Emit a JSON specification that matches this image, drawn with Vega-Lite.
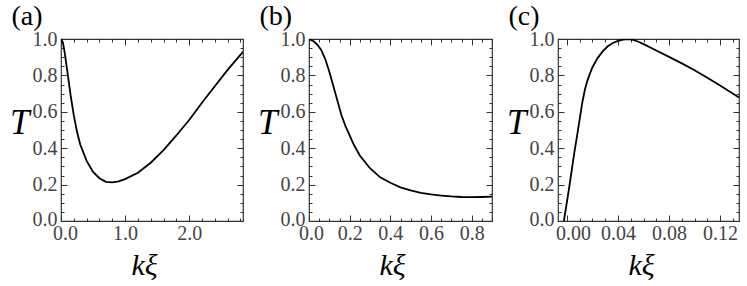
{
  "$schema": "https://vega.github.io/schema/vega-lite/v6.json",
  "padding": {"left": 8, "top": 2, "right": 0, "bottom": 0},
  "spacing": 11,
  "config": {
    "view": {"stroke": "#333", "strokeWidth": 1.2},
    "axis": {
      "grid": false,
      "domain": false,
      "labelFont": "Liberation Serif",
      "labelFontSize": 20,
      "labelColor": "#444",
      "tickColor": "#333",
      "tickWidth": 1,
      "titleFont": "Liberation Serif",
      "titleFontStyle": "italic",
      "titleFontWeight": "normal",
      "titleColor": "black",
      "labelOverlap": false,
      "labelFlush": false
    },
    "title": {"font": "Liberation Serif", "fontSize": 28, "fontWeight": "normal", "anchor": "start", "baseline": "bottom", "offset": -2, "dx": 2, "color": "black"}
  },
  "hconcat": [
    {
      "width": 182,
      "height": 182,
      "title": "(a)",
      "data": {"values": [
        {"k": 0, "T": 1.0}, {"k": 0.03, "T": 0.98}, {"k": 0.06, "T": 0.92}, {"k": 0.1, "T": 0.82},
        {"k": 0.15, "T": 0.69}, {"k": 0.2, "T": 0.58}, {"k": 0.25, "T": 0.49}, {"k": 0.3, "T": 0.42},
        {"k": 0.4, "T": 0.33}, {"k": 0.5, "T": 0.27}, {"k": 0.6, "T": 0.235}, {"k": 0.7, "T": 0.215},
        {"k": 0.8, "T": 0.212}, {"k": 0.9, "T": 0.218}, {"k": 1.0, "T": 0.23}, {"k": 1.2, "T": 0.265},
        {"k": 1.4, "T": 0.32}, {"k": 1.6, "T": 0.39}, {"k": 1.8, "T": 0.47}, {"k": 2.0, "T": 0.555},
        {"k": 2.2, "T": 0.65}, {"k": 2.4, "T": 0.74}, {"k": 2.6, "T": 0.83}, {"k": 2.84, "T": 0.93}
      ]},
      "layer": [
        {
          "mark": {"type": "line", "color": "black", "strokeWidth": 1.8, "clip": true},
          "encoding": {
            "x": {"field": "k", "type": "quantitative", "scale": {"domain": [0, 2.84], "nice": false, "zero": false},
              "axis": {"orient": "bottom", "values": [0, 0.2, 0.4, 0.6, 0.8, 1.0, 1.2, 1.4, 1.6, 1.8, 2.0, 2.2, 2.4, 2.6, 2.8],
                "tickSize": {"condition": {"test": "abs(datum.value - round(datum.value)) < 1e-6", "value": -6}, "value": -3},
                "labelExpr": "abs(datum.value - round(datum.value)) < 1e-6 ? format(datum.value, '.1f') : ''",
                "labelOffset": {"condition": {"test": "datum.value === 0", "value": 4}, "value": 0},
                "labelPadding": 8, "title": "kξ", "titleFontSize": 30, "titleX": 83, "titleY": 53, "titleBaseline": "alphabetic"}},
            "y": {"field": "T", "type": "quantitative", "scale": {"domain": [0, 1], "nice": false, "zero": false},
              "axis": {"orient": "left", "values": [0, 0.05, 0.1, 0.15, 0.2, 0.25, 0.3, 0.35, 0.4, 0.45, 0.5, 0.55, 0.6, 0.65, 0.7, 0.75, 0.8, 0.85, 0.9, 0.95, 1.0],
                "tickSize": {"condition": {"test": "abs(datum.value*5 - round(datum.value*5)) < 1e-6", "value": -6}, "value": -3},
                "labelExpr": "abs(datum.value*5 - round(datum.value*5)) < 1e-6 ? format(datum.value, '.1f') : ''",
                "labelOffset": {"condition": {"test": "datum.value === 0", "value": -2}, "value": 0},
                "labelPadding": 10, "title": "T", "titleFontSize": 35, "titleAngle": 0, "titleAlign": "right", "titleBaseline": "middle", "titleY": 83, "titlePadding": 3}}
          }
        },
        {
          "mark": {"type": "line", "strokeOpacity": 0},
          "encoding": {
            "x": {"field": "k", "type": "quantitative",
              "axis": {"orient": "top", "values": [0, 0.2, 0.4, 0.6, 0.8, 1.0, 1.2, 1.4, 1.6, 1.8, 2.0, 2.2, 2.4, 2.6, 2.8], "labels": false, "title": null,
                "tickSize": {"condition": {"test": "abs(datum.value - round(datum.value)) < 1e-6", "value": -6}, "value": -3}}},
            "y": {"field": "T", "type": "quantitative",
              "axis": {"orient": "right", "values": [0, 0.05, 0.1, 0.15, 0.2, 0.25, 0.3, 0.35, 0.4, 0.45, 0.5, 0.55, 0.6, 0.65, 0.7, 0.75, 0.8, 0.85, 0.9, 0.95, 1.0], "labels": false, "title": null,
                "tickSize": {"condition": {"test": "abs(datum.value*5 - round(datum.value*5)) < 1e-6", "value": -6}, "value": -3}}}
          }
        }
      ],
      "resolve": {"axis": {"x": "independent", "y": "independent"}}
    },
    {
      "width": 183,
      "height": 182,
      "title": "(b)",
      "data": {"values": [
        {"k": 0, "T": 1.0}, {"k": 0.02, "T": 0.99}, {"k": 0.04, "T": 0.97}, {"k": 0.06, "T": 0.94},
        {"k": 0.08, "T": 0.89}, {"k": 0.1, "T": 0.82}, {"k": 0.12, "T": 0.74}, {"k": 0.14, "T": 0.66},
        {"k": 0.16, "T": 0.58}, {"k": 0.18, "T": 0.52}, {"k": 0.2, "T": 0.47}, {"k": 0.22, "T": 0.42},
        {"k": 0.25, "T": 0.36}, {"k": 0.3, "T": 0.29}, {"k": 0.35, "T": 0.24}, {"k": 0.4, "T": 0.21},
        {"k": 0.45, "T": 0.185}, {"k": 0.5, "T": 0.168}, {"k": 0.55, "T": 0.155}, {"k": 0.6, "T": 0.146},
        {"k": 0.65, "T": 0.14}, {"k": 0.7, "T": 0.135}, {"k": 0.75, "T": 0.132}, {"k": 0.8, "T": 0.131},
        {"k": 0.85, "T": 0.132}, {"k": 0.9, "T": 0.134}
      ]},
      "layer": [
        {
          "mark": {"type": "line", "color": "black", "strokeWidth": 1.8, "clip": true},
          "encoding": {
            "x": {"field": "k", "type": "quantitative", "scale": {"domain": [0, 0.9], "nice": false, "zero": false},
              "axis": {"orient": "bottom", "values": [0, 0.05, 0.1, 0.15, 0.2, 0.25, 0.3, 0.35, 0.4, 0.45, 0.5, 0.55, 0.6, 0.65, 0.7, 0.75, 0.8, 0.85, 0.9],
                "tickSize": {"condition": {"test": "abs(datum.value*5 - round(datum.value*5)) < 1e-6", "value": -6}, "value": -3},
                "labelExpr": "abs(datum.value*5 - round(datum.value*5)) < 1e-6 && datum.value < 0.89 ? format(datum.value, '.1f') : ''",
                "labelOffset": {"condition": {"test": "datum.value === 0", "value": 2}, "value": 0},
                "labelPadding": 8, "title": "kξ", "titleFontSize": 30, "titleX": 83, "titleY": 53, "titleBaseline": "alphabetic"}},
            "y": {"field": "T", "type": "quantitative", "scale": {"domain": [0, 1], "nice": false, "zero": false},
              "axis": {"orient": "left", "values": [0, 0.05, 0.1, 0.15, 0.2, 0.25, 0.3, 0.35, 0.4, 0.45, 0.5, 0.55, 0.6, 0.65, 0.7, 0.75, 0.8, 0.85, 0.9, 0.95, 1.0],
                "tickSize": {"condition": {"test": "abs(datum.value*5 - round(datum.value*5)) < 1e-6", "value": -6}, "value": -3},
                "labelExpr": "abs(datum.value*5 - round(datum.value*5)) < 1e-6 ? format(datum.value, '.1f') : ''",
                "labelOffset": {"condition": {"test": "datum.value === 0", "value": -2}, "value": 0},
                "labelPadding": 10, "title": "T", "titleFontSize": 35, "titleAngle": 0, "titleAlign": "right", "titleBaseline": "middle", "titleY": 83, "titlePadding": 3}}
          }
        },
        {
          "mark": {"type": "line", "strokeOpacity": 0},
          "encoding": {
            "x": {"field": "k", "type": "quantitative",
              "axis": {"orient": "top", "values": [0, 0.05, 0.1, 0.15, 0.2, 0.25, 0.3, 0.35, 0.4, 0.45, 0.5, 0.55, 0.6, 0.65, 0.7, 0.75, 0.8, 0.85, 0.9], "labels": false, "title": null,
                "tickSize": {"condition": {"test": "abs(datum.value*5 - round(datum.value*5)) < 1e-6", "value": -6}, "value": -3}}},
            "y": {"field": "T", "type": "quantitative",
              "axis": {"orient": "right", "values": [0, 0.05, 0.1, 0.15, 0.2, 0.25, 0.3, 0.35, 0.4, 0.45, 0.5, 0.55, 0.6, 0.65, 0.7, 0.75, 0.8, 0.85, 0.9, 0.95, 1.0], "labels": false, "title": null,
                "tickSize": {"condition": {"test": "abs(datum.value*5 - round(datum.value*5)) < 1e-6", "value": -6}, "value": -3}}}
          }
        }
      ],
      "resolve": {"axis": {"x": "independent", "y": "independent"}}
    },
    {
      "width": 181,
      "height": 182,
      "title": "(c)",
      "data": {"values": [
        {"k": -0.0024, "T": 0}, {"k": 0.0, "T": 0.105}, {"k": 0.002, "T": 0.195}, {"k": 0.004, "T": 0.29},
        {"k": 0.006, "T": 0.385}, {"k": 0.008, "T": 0.47}, {"k": 0.01, "T": 0.56}, {"k": 0.012, "T": 0.65},
        {"k": 0.014, "T": 0.72}, {"k": 0.016, "T": 0.77}, {"k": 0.018, "T": 0.81}, {"k": 0.02, "T": 0.845},
        {"k": 0.024, "T": 0.895}, {"k": 0.028, "T": 0.932}, {"k": 0.032, "T": 0.96}, {"k": 0.036, "T": 0.978},
        {"k": 0.04, "T": 0.99}, {"k": 0.044, "T": 0.997}, {"k": 0.048, "T": 0.999}, {"k": 0.052, "T": 0.995},
        {"k": 0.056, "T": 0.985}, {"k": 0.06, "T": 0.972}, {"k": 0.065, "T": 0.955}, {"k": 0.07, "T": 0.937},
        {"k": 0.08, "T": 0.902}, {"k": 0.09, "T": 0.866}, {"k": 0.1, "T": 0.828}, {"k": 0.11, "T": 0.787},
        {"k": 0.12, "T": 0.744}, {"k": 0.1348, "T": 0.678}
      ]},
      "layer": [
        {
          "mark": {"type": "line", "color": "black", "strokeWidth": 1.8, "clip": true},
          "encoding": {
            "x": {"field": "k", "type": "quantitative", "scale": {"domain": [-0.007, 0.1348], "nice": false, "zero": false},
              "axis": {"orient": "bottom", "values": [0, 0.01, 0.02, 0.03, 0.04, 0.05, 0.06, 0.07, 0.08, 0.09, 0.1, 0.11, 0.12, 0.13],
                "tickSize": {"condition": {"test": "abs(datum.value*25 - round(datum.value*25)) < 1e-6", "value": -6}, "value": -3},
                "labelExpr": "abs(datum.value*25 - round(datum.value*25)) < 1e-6 ? format(datum.value, '.2f') : ''",
                "labelOffset": {"condition": {"test": "datum.value === 0", "value": 6}, "value": 0},
                "labelPadding": 8, "title": "kξ", "titleFontSize": 30, "titleX": 83, "titleY": 53, "titleBaseline": "alphabetic"}},
            "y": {"field": "T", "type": "quantitative", "scale": {"domain": [0, 1], "nice": false, "zero": false},
              "axis": {"orient": "left", "values": [0, 0.05, 0.1, 0.15, 0.2, 0.25, 0.3, 0.35, 0.4, 0.45, 0.5, 0.55, 0.6, 0.65, 0.7, 0.75, 0.8, 0.85, 0.9, 0.95, 1.0],
                "tickSize": {"condition": {"test": "abs(datum.value*5 - round(datum.value*5)) < 1e-6", "value": -6}, "value": -3},
                "labelExpr": "abs(datum.value*5 - round(datum.value*5)) < 1e-6 ? format(datum.value, '.1f') : ''",
                "labelOffset": {"condition": {"test": "datum.value === 0", "value": -2}, "value": 0},
                "labelPadding": 10, "title": "T", "titleFontSize": 35, "titleAngle": 0, "titleAlign": "right", "titleBaseline": "middle", "titleY": 83, "titlePadding": 3}}
          }
        },
        {
          "mark": {"type": "line", "strokeOpacity": 0},
          "encoding": {
            "x": {"field": "k", "type": "quantitative",
              "axis": {"orient": "top", "values": [0, 0.01, 0.02, 0.03, 0.04, 0.05, 0.06, 0.07, 0.08, 0.09, 0.1, 0.11, 0.12, 0.13], "labels": false, "title": null,
                "tickSize": {"condition": {"test": "abs(datum.value*25 - round(datum.value*25)) < 1e-6", "value": -6}, "value": -3}}},
            "y": {"field": "T", "type": "quantitative",
              "axis": {"orient": "right", "values": [0, 0.05, 0.1, 0.15, 0.2, 0.25, 0.3, 0.35, 0.4, 0.45, 0.5, 0.55, 0.6, 0.65, 0.7, 0.75, 0.8, 0.85, 0.9, 0.95, 1.0], "labels": false, "title": null,
                "tickSize": {"condition": {"test": "abs(datum.value*5 - round(datum.value*5)) < 1e-6", "value": -6}, "value": -3}}}
          }
        }
      ],
      "resolve": {"axis": {"x": "independent", "y": "independent"}}
    }
  ]
}
